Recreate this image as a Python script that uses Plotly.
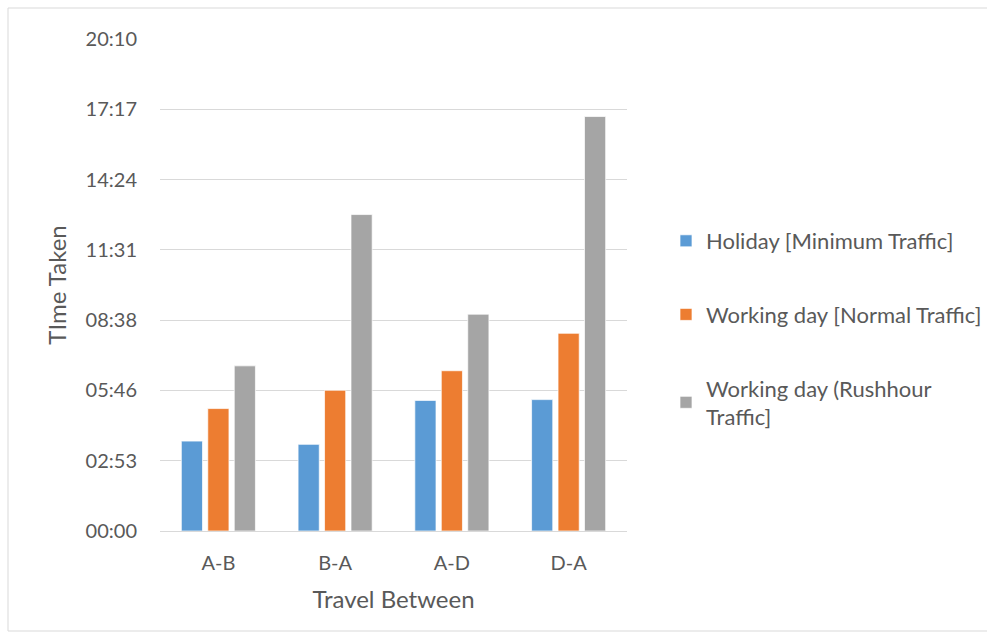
import plotly.graph_objects as go

categories = ["A-B", "B-A", "A-D", "D-A"]
# travel times in seconds
holiday = [221, 213, 321, 323]
normal = [301, 346, 394, 486]
rushhour = [406, 778, 533, 1019]

series_names = [
    "Holiday [Minimum Traffic]",
    "Working day [Normal Traffic]",
    "Working day (Rushhour<br>Traffic]",
]
series_colors = ["#5b9bd5", "#ed7d31", "#a5a5a5"]

tick_step = 172.8  # seconds (0.002 day)
tick_labels = ["00:00", "02:53", "05:46", "08:38", "11:31", "14:24", "17:17", "20:10"]
tick_vals = [i * tick_step for i in range(len(tick_labels))]

FONT = "Lato, Calibri, Carlito, sans-serif"
TXT = "#595959"

fig = go.Figure()
for name, vals, col in zip(series_names, [holiday, normal, rushhour], series_colors):
    fig.add_trace(go.Bar(
        x=categories, y=vals, name=name, legendgroup=name,
        marker=dict(color=col, line=dict(color="white", width=0.7)),
    ))

W, H = 987, 644
L, R, T, B = 160, 627, 39, 531
pw, ph = R - L, B - T


def px_x(x):
    return (x - L) / pw


def px_y(y):
    return (B - y) / ph


fig.update_layout(
    width=W, height=H,
    margin=dict(l=L, r=W - R, t=T, b=H - B),
    paper_bgcolor="white", plot_bgcolor="white",
    font=dict(family=FONT, color=TXT, size=20),
    barmode="group", bargap=0.32, bargroupgap=0.2,
    showlegend=True,
    legend=dict(
        xref="container", yref="container",
        x=666 / W, y=1 - 220 / H, xanchor="left", yanchor="top",
        font=dict(family=FONT, size=22, color=TXT),
        tracegroupgap=42, traceorder="grouped",
        itemwidth=30, bgcolor="rgba(0,0,0,0)",
    ),
    xaxis=dict(
        showgrid=False, showline=True, linecolor="#d9d9d9", linewidth=1,
        ticks="", tickfont=dict(size=20, color=TXT, family=FONT),
        ticklabelstandoff=14,
        title=dict(text="Travel Between", font=dict(size=24, color=TXT, family=FONT), standoff=18),
    ),
    yaxis=dict(
        range=[0, tick_vals[-1]], tickvals=tick_vals, ticktext=tick_labels,
        showgrid=True, gridcolor="#d9d9d9", gridwidth=1,
        zeroline=False, showline=False, ticks="",
        tickfont=dict(size=20, color=TXT, family=FONT),
        ticklabelstandoff=22,
        title=dict(text="TIme Taken", font=dict(size=24, color=TXT, family=FONT), standoff=12),
    ),
    shapes=[dict(
        type="rect", xref="paper", yref="paper",
        x0=px_x(8), x1=px_x(995), y0=px_y(631), y1=px_y(8),
        line=dict(color="#d9d9d9", width=1), fillcolor="rgba(0,0,0,0)", layer="below",
    )],
)

fig.write_html("out.html")
